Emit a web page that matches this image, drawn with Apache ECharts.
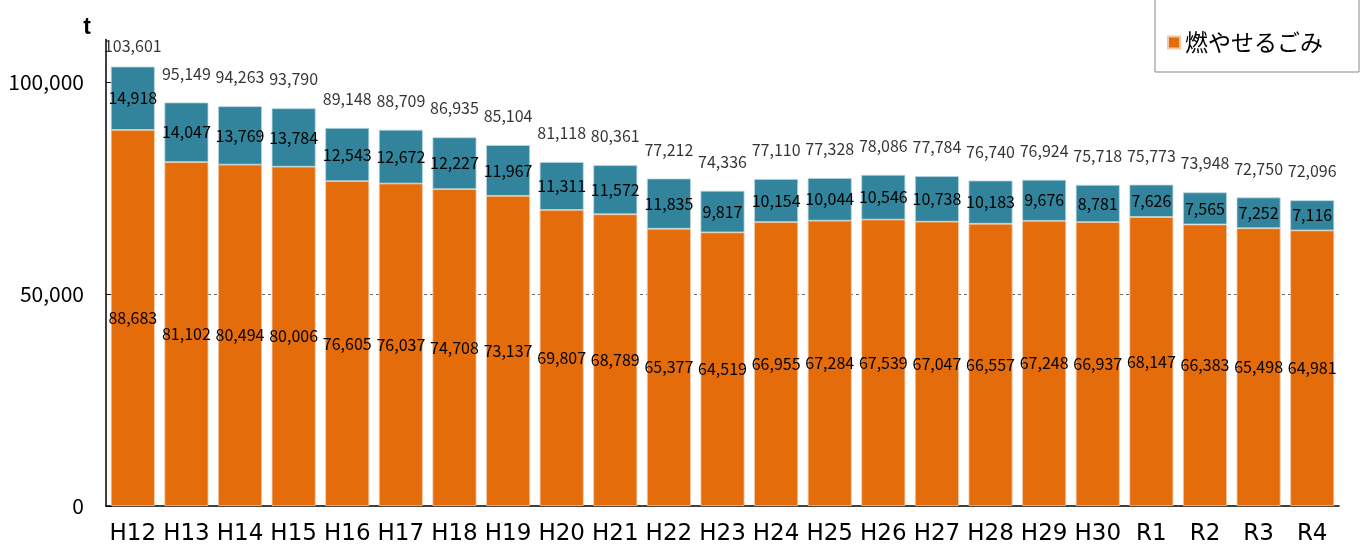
<!DOCTYPE html>
<html>
<head>
<meta charset="utf-8">
<script src="https://cdn.jsdelivr.net/npm/echarts@6/dist/echarts.min.js"></script>
<style>html,body{margin:0;padding:0;background:#fff;}#c{width:1363px;height:552px;}</style>
</head>
<body>
<div id="c"></div>
<script>
const categories = ['H12','H13','H14','H15','H16','H17','H18','H19','H20','H21','H22','H23','H24','H25','H26','H27','H28','H29','H30','R1','R2','R3','R4'];
const burnable = [88683,81102,80494,80006,76605,76037,74708,73137,69807,68789,65377,64519,66955,67284,67539,67047,66557,67248,66937,68147,66383,65498,64981];
const other = [14918,14047,13769,13784,12543,12672,12227,11967,11311,11572,11835,9817,10154,10044,10546,10738,10183,9676,8781,7626,7565,7252,7116];
const totals = [103601,95149,94263,93790,89148,88709,86935,85104,81118,80361,77212,74336,77110,77328,78086,77784,76740,76924,75718,75773,73948,72750,72096];
const yTicks = [0, 50000, 100000];

const fmt = v => v.toLocaleString('en-US');
const valFont = { fontFamily: 'Noto Sans CJK JP', fontSize: 16, color: '#000' };

const chart = echarts.init(document.getElementById('c'), null, { renderer: 'canvas' });
chart.setOption({
  animation: false,
  backgroundColor: '#fff',
  grid: { left: 106, right: 24, top: 39.5, bottom: 46, containLabel: false },
  legend: {
    data: ['燃やせるごみ'],
    right: 4, top: -10,
    padding: [41, 36, 18, 12],
    itemWidth: 12, itemHeight: 12, itemGap: 10,
    borderColor: '#888', borderWidth: 1,
    icon: 'rect',
    textStyle: { fontFamily: 'Noto Sans CJK JP', fontSize: 23, color: '#000' }
  },
  xAxis: {
    type: 'category',
    data: categories,
    axisLine: { lineStyle: { color: '#000', width: 1.5 } },
    axisTick: { inside: true, length: 5, lineStyle: { color: '#555' } },
    axisLabel: { margin: 17, fontFamily: 'DejaVu Sans', fontSize: 23, color: '#000', interval: 0 }
  },
  yAxis: {
    type: 'value',
    min: 0, max: 110000, interval: 50000,
    name: 't',
    nameLocation: 'end',
    nameGap: 0,
    nameTextStyle: { fontFamily: 'Liberation Sans', fontWeight: 'bold', fontSize: 23, color: '#000', align: 'right', padding: [0, 15, 0, 0] },
    axisLine: { show: true, lineStyle: { color: '#000', width: 1.5 } },
    axisTick: { show: true, inside: true, length: 6, lineStyle: { color: '#000' }, customValues: yTicks },
    axisLabel: { margin: 22, fontFamily: 'Noto Sans CJK JP', fontSize: 21, color: '#000',
      customValues: yTicks,
      formatter: v => (yTicks.indexOf(v) >= 0 ? fmt(v) : '') },
    splitLine: { show: true, showMinLine: false, showMaxLine: false, lineStyle: { color: '#666', type: [3, 3], width: 1 } }
  },
  series: [
    {
      name: '燃やせるごみ', type: 'bar', stack: 'a', data: burnable,
      barCategoryGap: '18%',
      itemStyle: { color: '#E46C0A', borderColor: '#F4C8A4', borderWidth: 0.8 },
      label: { show: true, position: 'inside', ...valFont, formatter: p => fmt(p.value) }
    },
    {
      name: 'その他', type: 'bar', stack: 'a', data: other,
      itemStyle: { color: '#31849B', borderColor: '#B8D6DE', borderWidth: 0.8 },
      label: { show: true, position: 'inside', ...valFont, formatter: p => fmt(p.value) }
    },
    {
      name: '合計', type: 'scatter', symbolSize: 0, silent: true,
      data: totals.map((v, i) => ({ value: v, label: { distance: i === 0 ? 13 : 21 } })),
      label: { show: true, position: 'top', ...valFont, formatter: p => fmt(p.value) },
      z: 5
    }
  ]
});
</script>
</body>
</html>
